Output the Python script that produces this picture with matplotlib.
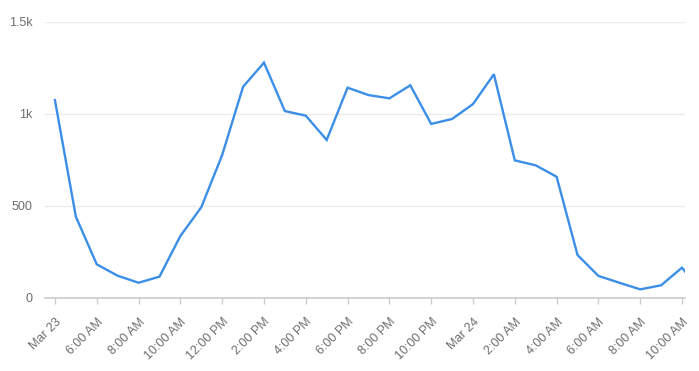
import matplotlib
matplotlib.use("Agg")
import matplotlib.pyplot as plt

# hours since Mar 23 00:00
hours = list(range(4, 36))
values = [1075, 442, 183, 121, 83, 116, 337, 493, 777, 1148, 1279, 1016, 991, 859,
          1143, 1103, 1085, 1156, 946, 973, 1054, 1216, 748, 721, 659, 234, 120, 83,
          47, 69, 165, 20]

tick_hours = [4, 6, 8, 10, 12, 14, 16, 18, 20, 22, 24, 26, 28, 30, 32, 34]
tick_labels = ["Mar 23", "6:00 AM", "8:00 AM", "10:00 AM", "12:00 PM", "2:00 PM",
               "4:00 PM", "6:00 PM", "8:00 PM", "10:00 PM", "Mar 24", "2:00 AM",
               "4:00 AM", "6:00 AM", "8:00 AM", "10:00 AM"]
y_ticks = [0, 500, 1000, 1500]
y_labels = ["0", "500", "1k", "1.5k"]

plt.rcParams['font.family'] = ['Liberation Sans', 'DejaVu Sans']

fig = plt.figure(figsize=(6.99, 3.71), dpi=100)
ax = fig.add_axes([45/699, (371-298)/371, (685-45)/699, 276/371])

ax.plot(hours, values, color='#3b8fe6', linewidth=1.7, solid_joinstyle='miter', clip_on=True)

ax.set_xlim(4 - 10/21, 34 + 3/21)
ax.set_ylim(0, 1500)

ax.set_yticks(y_ticks)
ax.set_yticklabels(y_labels)
ax.set_xticks(tick_hours)
ax.set_xticklabels(tick_labels, rotation=45, ha='right', rotation_mode='anchor')

ax.grid(axis='y', color='#ececec', linewidth=1)
ax.set_axisbelow(True)
for s in ['top', 'right', 'left']:
    ax.spines[s].set_visible(False)
ax.spines['bottom'].set_color('#cccccc')
ax.spines['bottom'].set_linewidth(1.2)

ax.tick_params(axis='y', length=0, pad=9, labelsize=9, labelcolor='#6e6e6e')
ax.tick_params(axis='x', length=4, width=1, color='#cccccc', pad=9, labelsize=9,
               labelcolor='#6e6e6e')

fig.savefig('out.png', dpi=100)
